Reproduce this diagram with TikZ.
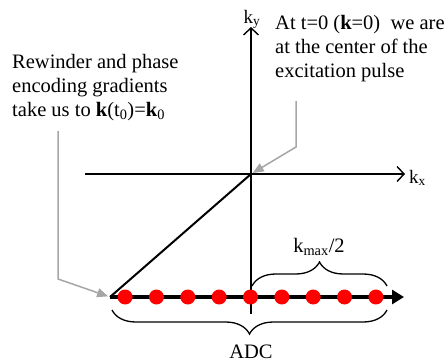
\documentclass[tikz,border=0pt]{standalone}
\usepackage{fontspec}
\setmainfont{Liberation Serif}
\usetikzlibrary{arrows.meta,decorations.pathreplacing}

\begin{document}
\begin{tikzpicture}[x=1pt,y=-1pt,
    axis/.style={line width=1.4pt,-{Straight Barb[length=7pt,width=15pt,line width=1.4pt]}},
    pointer/.style={line width=1.5pt,gray!70,shorten >=2pt,-{Triangle[length=11pt,width=9pt]}},
    sample/.style={circle,fill=red,inner sep=0pt,minimum size=15pt},
    brc/.style={decorate,decoration={brace,amplitude=24pt},line width=1.3pt},
    txt/.style={inner sep=0pt,font=\fontsize{20.5}{24.2}\selectfont},
    axlbl/.style={inner sep=0pt,font=\fontsize{19}{21}\selectfont}]
\useasboundingbox (0,0) rectangle (445,362);

% k-space axes
\coordinate (O) at (251,174);
\coordinate (ytop) at (251,27);
\coordinate (xend) at (405,174);
\draw[axis] (251,314) -- (ytop);
\draw[axis] (85,174) -- (xend);
\node[axlbl,anchor=base] (ky) at (252,23) {k\textsubscript{y}};
\node[axlbl,anchor=base west] (kx) at (409,183) {k\textsubscript{x}};

% trajectory to k0, then readout
\coordinate (k0) at (110,297);
\coordinate (kend) at (404,297);
\draw[line width=2pt] (O) -- (k0);
\draw[line width=3.5pt,-{Triangle[length=12pt,width=14pt]}] (k0) -- (kend);
\foreach \i in {0,...,8}
    \node[sample] (s\i) at ({250.5+31.35*(\i-4)},297) {};

% braces
\draw[brc] (252,286) -- (387,286);
\node[txt,anchor=base] (kmax) at (319,252) {k\textsubscript{max}/2};
\draw[brc] (387,310) -- (112,310);
\node[txt,anchor=base] (adc) at (251,358) {ADC};

% notes
\node[txt,anchor=north west,align=left] (rewind) at (12,54)
    {Rewinder and phase\\encoding gradients\\take us to \textbf{k}(t\textsubscript{0})=\textbf{k}\textsubscript{0}};
\node[txt,anchor=north west,align=left] (center) at (275,15)
    {At t=0 (\textbf{k}=0)~ we are\\at the center of the\\excitation pulse};
\draw[pointer] (58,131) -- (58,279) -- (k0);
\draw[pointer] (296,101) -- (296,147) -- (O);
\end{tikzpicture}
\end{document}
